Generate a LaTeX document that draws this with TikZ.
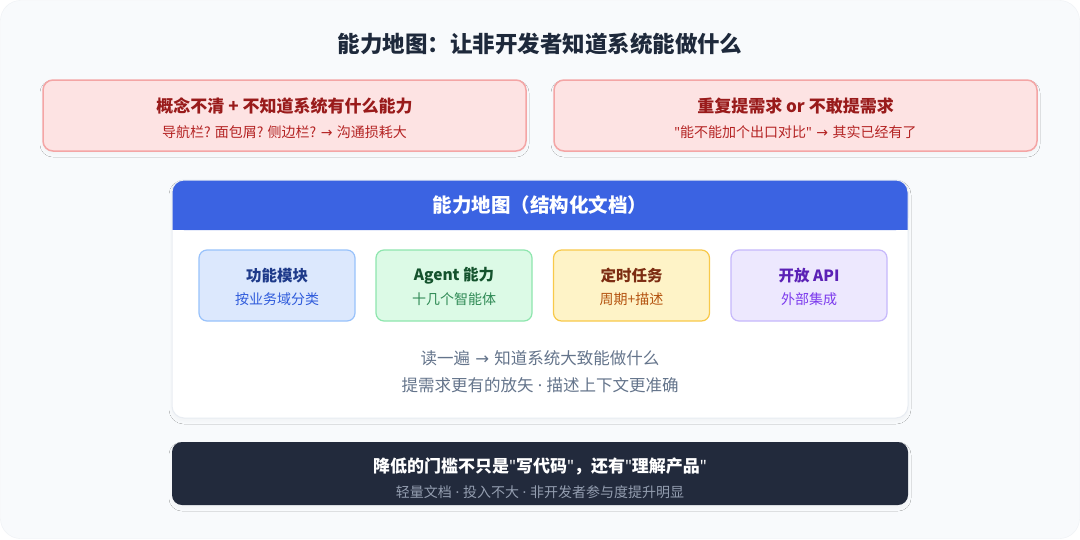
\documentclass[tikz,border=0pt]{standalone}
\usepackage{fontspec}
\setmainfont{Noto Sans CJK SC}
\newfontfamily\lat{Noto Sans}
\newfontfamily\arrf{DejaVu Sans}
\newcommand{\qq}{{\lat\char34}}
\newcommand{\md}{{\lat\ \textperiodcentered\ }}
\newcommand{\ra}{{\arrf\ →\ }}
\usetikzlibrary{shadows.blur}
\definecolor{pagebg}{HTML}{F8FAFC}
\definecolor{pageline}{HTML}{EEF1F5}
\definecolor{titlec}{HTML}{1E293B}
\definecolor{redfill}{HTML}{FDE3E3}
\definecolor{redline}{HTML}{F4A5A5}
\definecolor{redtitle}{HTML}{991B1B}
\definecolor{redsub}{HTML}{B42323}
\definecolor{headblue}{HTML}{3B63E2}
\definecolor{cardline}{HTML}{E8ECF2}
\definecolor{bfill}{HTML}{DCE8FD}\definecolor{bline}{HTML}{98C2FB}\definecolor{btitle}{HTML}{1E3A8A}\definecolor{bsub}{HTML}{2F5BDB}
\definecolor{gfill}{HTML}{DCFAE6}\definecolor{gline}{HTML}{8EE6AE}\definecolor{gtitle}{HTML}{14532D}\definecolor{gsub}{HTML}{2F8A55}
\definecolor{yfill}{HTML}{FEF3C7}\definecolor{yline}{HTML}{F8C94A}\definecolor{ytitle}{HTML}{7C2D12}\definecolor{ysub}{HTML}{B4530F}
\definecolor{pfill}{HTML}{EDE8FE}\definecolor{pline}{HTML}{C6B8FB}\definecolor{ptitle}{HTML}{5B21B6}\definecolor{psub}{HTML}{7C3AED}
\definecolor{graytext}{HTML}{64748B}
\definecolor{darkfill}{HTML}{222A3C}
\definecolor{darksub}{HTML}{949EB0}
\tikzset{
  softshadow/.style={blur shadow={shadow blur steps=8, shadow blur radius=3pt, shadow xshift=0pt, shadow yshift=-3pt, shadow opacity=3}},
  probbox/.style={draw=redline, line width=1.5pt, fill=redfill, rounded corners=10pt, minimum width=483pt, minimum height=71pt, softshadow},
  capbox/.style={line width=1.2pt, rounded corners=8pt, minimum width=156pt, minimum height=71pt},
  boldtext/.style={font=\bfseries\fontsize{17}{20}\selectfont},
  subtext/.style={font=\fontsize{14}{17}\selectfont},
  captitle/.style={font=\bfseries\fontsize{15.5}{18}\selectfont},
}
\begin{document}
\begin{tikzpicture}[x=1pt,y=-1pt]
\useasboundingbox (0,0) rectangle (1080,539);
\fill[white] (0,0) rectangle (1080,539);
\filldraw[fill=pagebg, draw=pageline, rounded corners=20pt] (0.5,0.5) rectangle (1079.5,538.5);
\node[font=\bfseries\fontsize{22.5}{26}\selectfont, text=titlec] (title) at (540,44) {能力地图：让非开发者知道系统能做什么};
% problem boxes
\node[probbox] (p1) at (284.5,115.5) {};
\node[boldtext, text=redtitle] (p1t) at (284.5,106) {概念不清 + 不知道系统有什么能力};
\node[subtext, text=redsub] (p1s) at (284.5,132) {导航栏? 面包屑? 侧边栏?\ra 沟通损耗大};
\node[probbox] (p2) at (795.5,115.5) {};
\node[boldtext, text=redtitle] (p2t) at (795.5,106) {重复提需求 or 不敢提需求};
\node[subtext, text=redsub] (p2s) at (795.5,132) {\qq 能不能加个出口对比\qq\ra 其实已经有了};
% main card
\fill[white, rounded corners=12pt, softshadow] (172,180) rectangle (908,418);
\fill[headblue, rounded corners=12pt] (172,180) rectangle (908,230);
\fill[headblue] (172,215) rectangle (908,230);
\draw[cardline, line width=1pt, rounded corners=12pt] (172,180) rectangle (908,418);
\node[font=\bfseries\fontsize{19.5}{23}\selectfont, text=white] (head) at (540,205) {能力地图（结构化文档）};
% capability boxes
\node[capbox, draw=bline, fill=bfill] (c1) at (277,285.5) {};
\node[captitle, text=btitle] at (277,276) {功能模块};
\node[subtext, text=bsub] at (277,299) {按业务域分类};
\node[capbox, draw=gline, fill=gfill] (c2) at (454,285.5) {};
\node[captitle, text=gtitle] at (454,276) {Agent 能力};
\node[subtext, text=gsub] at (454,299) {十几个智能体};
\node[capbox, draw=yline, fill=yfill] (c3) at (631.5,285.5) {};
\node[captitle, text=ytitle] at (631.5,276) {定时任务};
\node[subtext, text=ysub] at (631.5,299) {周期+描述};
\node[capbox, draw=pline, fill=pfill] (c4) at (809,285.5) {};
\node[captitle, text=ptitle] at (809,276) {开放 API};
\node[subtext, text=psub] at (809,299) {外部集成};
\node[font=\fontsize{16.5}{20}\selectfont, text=graytext] (l1) at (540,358) {读一遍\ra 知道系统大致能做什么};
\node[font=\fontsize{16.5}{20}\selectfont, text=graytext] (l2) at (540,385) {提需求更有的放矢\md 描述上下文更准确};
% bottom dark
\node[fill=darkfill, rounded corners=10pt, minimum width=736pt, minimum height=63pt, softshadow] (bot) at (540,473.5) {};
\node[boldtext, text=white] (bt) at (540,466) {降低的门槛不只是\qq 写代码\qq ，还有\qq 理解产品\qq};
\node[subtext, text=darksub] (bs) at (540,492) {轻量文档\md 投入不大\md 非开发者参与度提升明显};
\end{tikzpicture}
\end{document}
